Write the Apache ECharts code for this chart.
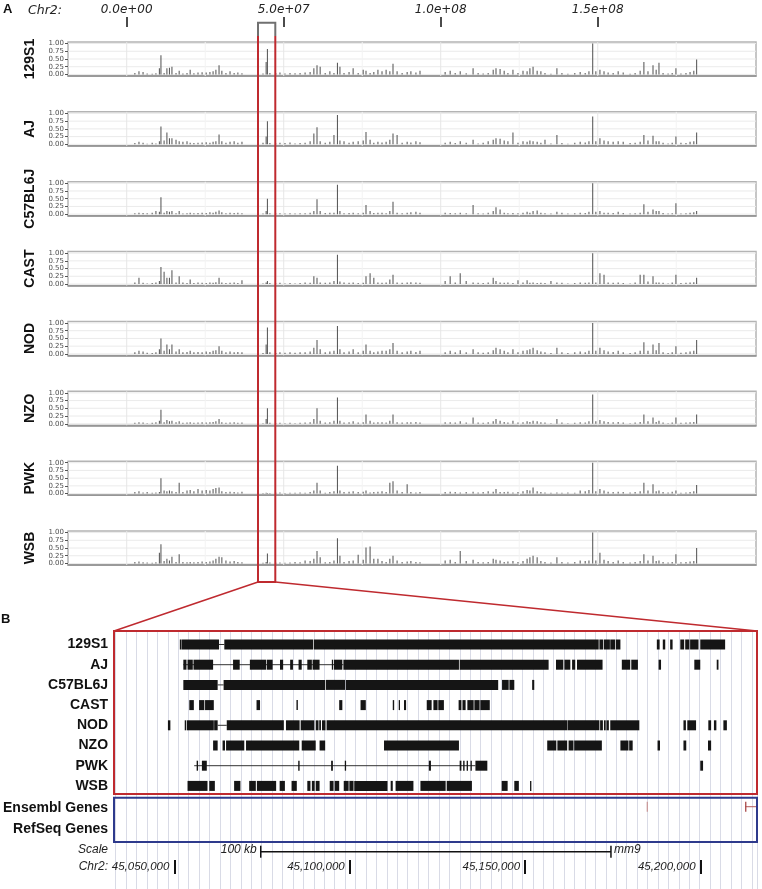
<!DOCTYPE html>
<html><head><meta charset="utf-8">
<script src="https://cdn.jsdelivr.net/npm/echarts@6/dist/echarts.min.js"></script>
<style>html,body{margin:0;padding:0;background:#fff}#c{width:762px;height:889px}</style>
</head><body><div id="c"></div><script>
// ---------------- DATA ----------------
const strains = ['129S1','AJ','C57BL6J','CAST','NOD','NZO','PWK','WSB'];
// Panel A: bin positions (Mb on Chr2)
const binMb = [2.6,3.9,5.2,6.5,8.1,9.3,10.4,10.9,11.9,12.8,13.6,14.4,15.7,16.7,17.9,19.2,20.2,21.4,22.7,24.0,25.3,26.5,27.5,28.4,29.4,30.3,31.6,32.9,34.2,35.4,36.7,43.4,44.4,44.8,45.6,47.5,48.8,50.4,52.0,53.6,55.2,56.8,58.4,59.6,60.6,61.6,63.2,64.7,66.0,67.1,67.9,69.2,70.8,72.1,73.7,75.3,76.2,77.5,78.7,80.0,81.3,82.6,83.8,84.8,86.1,87.7,89.3,90.5,92.1,93.4,101.4,103.0,104.6,106.2,108.1,110.3,111.9,113.5,115.1,116.7,117.6,118.9,120.2,121.4,123.0,124.6,126.2,127.5,128.4,129.4,130.7,131.9,133.2,135.1,137.0,138.6,140.5,142.7,144.4,146.0,147.2,148.4,149.4,150.7,152.0,153.3,154.9,156.5,158.1,160.3,161.9,163.5,164.7,166.0,167.6,168.6,169.5,170.8,172.4,173.7,174.9,176.5,178.1,179.4,180.6,181.5];
const val129S1 = [.05,.1,.08,.03,.02,.04,.2,.62,.05,.2, .22,.25,.05,.12,.03,.05,.15,.04,.06,.07, .06,.08,.1,.15,.3,.12,.05,.1,.05,.06, .04,.03,.4,.82,.05,.04,.06,.03,.05,.04, .05,.06,.08,.2,.3,.25,.05,.1,.05,.38, .25,.05,.08,.2,.05,.15,.12,.05,.08,.15, .1,.15,.1,.35,.1,.05,.08,.1,.06,.12, .08,.12,.05,.1,.04,.2,.05,.03,.05,.15, .2,.18,.12,.05,.15,.05,.12,.1,.2,.25, .12,.1,.05,.02,.2,.05,.02,.05,.08,.05, .1,1.0,.1,.15,.1,.06,.05,.1,.06,.02, .05,.12,.4,.1,.3,.15,.38,.05,.03,.05, .2,.03,.05,.08,.12,.48];
const valAJ = [.04,.08,.05,.02,.05,.03,.1,.58,.12,.38, .2,.2,.15,.1,.08,.1,.05,.04,.05,.06, .07,.05,.08,.1,.32,.1,.05,.08,.1,.05, .08,.05,.25,.75,.04,.03,.05,.04,.06,.03, .04,.05,.1,.35,.55,.1,.05,.08,.3,.95, .12,.1,.05,.08,.1,.12,.4,.15,.05,.08, .06,.08,.15,.35,.3,.05,.08,.06,.1,.07, .05,.08,.04,.1,.05,.15,.03,.05,.1,.15, .2,.18,.12,.1,.38,.05,.1,.08,.12,.1, .08,.05,.15,.03,.3,.04,.02,.05,.08,.06, .1,.9,.1,.2,.12,.1,.08,.1,.08,.04, .05,.08,.3,.12,.28,.1,.1,.05,.03,.05, .25,.05,.04,.08,.1,.38];
const valC57BL6J = [.03,.05,.04,.03,.05,.1,.08,.55,.05,.1, .08,.1,.03,.1,.02,.03,.05,.03,.04,.05, .04,.06,.05,.08,.12,.06,.03,.05,.04,.05, .03,.02,.1,.5,.03,.02,.03,.02,.03,.02, .03,.03,.05,.1,.48,.1,.04,.05,.05,.95, .1,.03,.04,.05,.03,.05,.3,.1,.04,.05, .05,.03,.1,.4,.05,.03,.05,.06,.08,.05, .05,.04,.03,.05,.03,.3,.03,.02,.05,.1, .22,.15,.05,.03,.04,.03,.05,.08,.05,.1, .12,.05,.03,.02,.08,.05,.02,.03,.05,.04, .08,1.0,.08,.1,.05,.05,.04,.08,.04,.02, .03,.05,.32,.08,.15,.1,.1,.04,.02,.03, .35,.02,.03,.05,.06,.1];
const valCAST = [.05,.2,.04,.02,.03,.05,.1,.55,.4,.2, .2,.45,.05,.25,.05,.03,.15,.03,.05,.04, .03,.05,.04,.06,.2,.05,.03,.04,.05,.03, .12,.02,.05,.1,.03,.02,.04,.02,.03,.02, .03,.05,.04,.25,.2,.05,.04,.05,.1,.95, .08,.05,.04,.05,.03,.04,.25,.35,.2,.05, .04,.05,.15,.3,.05,.04,.05,.06,.05,.04, .1,.25,.05,.35,.1,.05,.04,.03,.05,.2, .1,.05,.04,.05,.03,.12,.05,.12,.04,.05, .03,.04,.03,.1,.05,.04,.02,.03,.05,.04, .05,1.0,.05,.35,.3,.05,.04,.05,.03,.02, .05,.3,.3,.08,.25,.05,.05,.04,.02,.05, .3,.03,.04,.05,.06,.2];
const valNOD = [.05,.1,.08,.04,.03,.05,.15,.5,.1,.3, .15,.3,.08,.15,.05,.06,.1,.05,.06,.05, .08,.06,.1,.12,.25,.1,.05,.08,.05,.06, .05,.03,.3,.85,.05,.03,.05,.04,.05,.04, .05,.05,.08,.2,.45,.15,.05,.08,.1,.9, .15,.05,.08,.15,.05,.1,.3,.1,.05,.08, .1,.1,.15,.35,.1,.05,.08,.1,.06,.1, .05,.1,.05,.12,.05,.15,.05,.04,.05,.12, .2,.15,.1,.05,.15,.05,.1,.12,.15,.2, .12,.08,.05,.03,.2,.05,.03,.05,.08,.05, .1,1.0,.1,.2,.12,.08,.06,.1,.05,.03, .05,.1,.38,.1,.3,.12,.35,.05,.03,.05, .25,.04,.05,.08,.1,.45];
const valNZO = [.03,.05,.04,.02,.03,.05,.1,.45,.05,.12, .08,.1,.05,.08,.03,.04,.05,.03,.04,.05, .04,.05,.06,.08,.15,.05,.03,.04,.05,.03, .04,.02,.15,.5,.03,.02,.03,.02,.03,.02, .03,.04,.05,.15,.5,.1,.04,.05,.1,.85, .1,.04,.05,.08,.04,.05,.3,.1,.04,.05, .05,.04,.1,.3,.05,.04,.05,.05,.06,.04, .05,.05,.04,.08,.04,.2,.04,.03,.05,.08, .15,.1,.06,.04,.1,.04,.05,.08,.06,.1, .08,.05,.04,.02,.15,.04,.02,.03,.05,.04, .08,.95,.08,.12,.08,.06,.05,.06,.04,.02, .04,.06,.3,.08,.2,.06,.1,.04,.02,.04, .2,.03,.04,.05,.06,.3];
const valPWK = [.05,.08,.04,.05,.03,.04,.05,.5,.1,.08, .1,.08,.05,.35,.05,.1,.12,.08,.15,.1, .12,.1,.15,.18,.2,.08,.05,.06,.05,.04, .06,.02,.03,.02,.02,.03,.04,.02,.03,.03, .04,.03,.05,.1,.35,.1,.03,.05,.08,.9, .1,.05,.06,.08,.05,.06,.1,.04,.05,.06, .08,.05,.35,.4,.1,.05,.3,.05,.04,.05, .05,.06,.05,.04,.05,.06,.04,.05,.08,.06, .15,.05,.05,.06,.04,.05,.08,.12,.1,.2, .08,.05,.04,.03,.04,.03,.04,.03,.1,.08, .12,1.0,.08,.15,.1,.06,.05,.06,.05,.04, .05,.08,.35,.1,.3,.08,.1,.05,.04,.06, .1,.03,.04,.05,.08,.28];
const valWSB = [.05,.06,.04,.03,.02,.04,.35,.62,.08,.15, .1,.22,.05,.3,.05,.04,.05,.04,.05,.06, .05,.06,.1,.15,.22,.2,.1,.06,.08,.05, .04,.02,.05,.32,.03,.02,.03,.02,.03,.05, .04,.1,.08,.15,.4,.2,.04,.05,.1,.82, .25,.05,.08,.1,.28,.12,.52,.55,.15,.15, .08,.05,.15,.25,.1,.05,.06,.08,.05,.04, .1,.12,.05,.4,.08,.12,.05,.04,.05,.15, .12,.1,.05,.06,.08,.05,.08,.15,.2,.25, .2,.08,.05,.03,.2,.05,.03,.05,.1,.08, .1,1.0,.1,.35,.12,.08,.05,.1,.05,.03, .05,.08,.3,.1,.25,.08,.1,.05,.03,.05, .3,.04,.05,.06,.08,.5];
const strainValues = [val129S1,valAJ,valC57BL6J,valCAST,valNOD,valNZO,valPWK,valWSB];
const topTickMb = [0,50,100,150];
const topTickLabels = ['0.0e+00','5.0e+07','1.0e+08','1.5e+08'];
const minorMb = [25,75,125,175];
const yTicks = [0,0.25,0.5,0.75,1];

// Panel B: blocks in kb (Chr2), [start, end]
const blocks129S1 = [[45051.3,45051.8],[45051.9,45062.5],[45064.0,45089.4],[45089.6,45170.9],[45171.1,45172.2],[45172.4,45174.1],[45174.2,45175.6],[45175.8,45177.1],[45187.5,45188.3],[45189.2,45189.9],[45191.3,45192.0],[45194.2,45195.3],[45195.6,45196.8],[45197.0,45199.4],[45199.9,45207.0]];
const lines129S1 = [[45062.5,45064.0]];
const blocksAJ = [[45052.3,45053.2],[45053.5,45055.0],[45055.2,45060.8],[45066.5,45068.4],[45071.3,45075.9],[45076.1,45077.8],[45079.9,45080.8],[45082.8,45083.6],[45085.2,45086.1],[45087.7,45089.0],[45089.2,45091.2],[45094.7,45095.0],[45095.3,45097.7],[45098.0,45131.0],[45131.2,45156.6],[45158.7,45160.8],[45161.1,45162.8],[45163.3,45164.2],[45164.7,45172.0],[45177.5,45179.9],[45180.2,45182.1],[45188.0,45188.7],[45198.2,45199.9],[45204.6,45205.1]];
const linesAJ = [[45052.3,45098.0]];
const blocksC57BL6J = [[45052.3,45062.1],[45063.8,45092.8],[45093.0,45098.5],[45098.7,45142.2],[45143.3,45145.2],[45145.4,45146.8],[45151.9,45152.5]];
const linesC57BL6J = [[45062.1,45063.8]];
const blocksCAST = [[45054.0,45055.3],[45056.8,45058.3],[45058.5,45061.0],[45073.2,45074.2],[45084.6,45085.0],[45096.8,45097.7],[45102.9,45104.4],[45112.1,45112.5],[45113.8,45114.1],[45115.3,45115.9],[45121.8,45123.2],[45123.7,45124.9],[45125.1,45126.7],[45130.9,45131.7],[45132.0,45132.9],[45133.4,45135.2],[45135.4,45136.9],[45137.1,45139.8]];
const linesCAST = [];
const blocksNOD = [[45047.9,45048.6],[45052.7,45053.1],[45053.3,45061.0],[45061.1,45062.1],[45064.7,45081.0],[45081.6,45085.5],[45085.8,45089.7],[45090.1,45090.9],[45091.1,45091.6],[45091.9,45092.9],[45093.2,45161.9],[45162.0,45171.1],[45171.3,45172.1],[45172.4,45172.9],[45173.1,45173.8],[45174.2,45182.5],[45195.1,45195.8],[45196.2,45198.7],[45202.2,45203.0],[45203.8,45204.5],[45206.5,45207.5]];
const linesNOD = [[45062.1,45064.7]];
const blocksNZO = [[45060.8,45062.1],[45063.5,45064.2],[45064.5,45069.7],[45070.2,45085.4],[45086.1,45090.1],[45091.2,45092.8],[45109.6,45131.0],[45156.2,45158.8],[45159.1,45161.9],[45162.3,45163.7],[45163.9,45171.8],[45177.1,45179.4],[45179.6,45180.6],[45187.7,45188.4],[45195.1,45195.9],[45202.1,45203.0]];
const linesNZO = [];
const blocksPWK = [[45056.1,45056.5],[45057.6,45059.0],[45085.1,45085.5],[45094.5,45095.0],[45098.4,45098.6],[45122.4,45123.0],[45131.2,45131.7],[45132.2,45132.6],[45133.2,45133.4],[45134.3,45134.6],[45135.7,45139.1],[45199.9,45200.7]];
const linesPWK = [[45055.4,45135.7]];
const blocksWSB = [[45053.5,45059.2],[45059.7,45061.3],[45066.8,45068.6],[45071.1,45073.0],[45073.3,45078.8],[45079.8,45081.3],[45083.2,45084.7],[45087.7,45088.6],[45089.0,45089.8],[45090.1,45091.2],[45094.1,45095.2],[45095.5,45096.8],[45098.1,45099.5],[45099.7,45100.9],[45101.1,45110.6],[45111.5,45112.1],[45112.9,45118.0],[45120.0,45127.2],[45127.5,45134.7],[45143.2,45144.9],[45146.8,45148.1],[45151.3,45151.6]];
const linesWSB = [];
const ensemblBlocks = [[45184.6,45184.9],[45212.7,45213.0]];
const ensemblLines = [[45212.7,45216.1]];
const windowKb = [45032.8, 45216.1];
const scaleBarKb = [45074.4, 45174.4];
const positionTicksKb = [45050, 45100, 45150, 45200];
const trackLabels = ['129S1','AJ','C57BL6J','CAST','NOD','NZO','PWK','WSB','Ensembl Genes','RefSeq Genes','Scale','Chr2:'];
const trackLabelRows = [0,1,2,3,4,5,6,7,8.1,9.15,10.17,11.01];
const ensemblRow = 8.03, scaleRow = 10.257;

// ---------------- LAYOUT ----------------
const SANS = '"Liberation Sans", Arial, Helvetica, sans-serif';
const WIDE = '"DejaVu Sans", sans-serif';
const RED = '#bf2a2f', NAVY = '#2e3a8c';
const A_LEFT = 68, A_WIDTH = 688, A_TOP0 = 42, A_STEP = 69.86, A_H = 34;
const X_MIN = -18.7, X_MAX = 200.4;
const B_LEFT = 114, B_WIDTH = 643, B_TOP = 631, B_BOTTOM = 889;
const ROW0 = 644.5, ROWSTEP = 20.2;

const grids = [], xAxes = [], yAxes = [], series = [];
strains.forEach((s, i) => {
  grids.push({left: A_LEFT, width: A_WIDTH, top: A_TOP0 + i * A_STEP, height: A_H, show: true,
    borderColor: '#b4b4b4', borderWidth: 1.5, backgroundColor: '#fff'});
  xAxes.push({type: 'value', gridIndex: i, min: X_MIN, max: X_MAX, position: 'bottom',
    axisLine: {show: true, onZero: false, lineStyle: {color: '#8c8c8c', width: 1.5}},
    axisTick: {show: false}, axisLabel: {show: false}, splitLine: {show: false}});
  yAxes.push({type: 'value', gridIndex: i, min: -0.05, max: 1.05, position: 'left',
    name: s, nameLocation: 'middle', nameRotate: 90, nameGap: 26,
    nameTextStyle: {fontFamily: SANS, fontWeight: 'bold', fontSize: 14, color: '#111'},
    axisLine: {show: false, onZero: false},
    axisTick: {show: true, customValues: yTicks, length: 3, lineStyle: {color: '#555'}},
    axisLabel: {customValues: yTicks, formatter: v => v.toFixed(2), fontSize: 7, fontFamily: WIDE, color: '#4d4d4d', margin: 4},
    splitLine: {show: false}});
  // light grid lines
  series.push({type: 'custom', xAxisIndex: i, yAxisIndex: i, silent: true, z: 1,
    data: yTicks.map(v => [X_MIN, v]),
    renderItem: (p, api) => {
      const cs = p.coordSys; const y = api.coord([0, api.value(1)])[1];
      return {type: 'line', shape: {x1: cs.x, y1: y, x2: cs.x + cs.width, y2: y}, style: {stroke: '#ebebeb', lineWidth: 1}};
    }});
  series.push({type: 'custom', xAxisIndex: i, yAxisIndex: i, silent: true, z: 1,
    data: topTickMb.map(v => [v, 0, 1]).concat(minorMb.map(v => [v, 0, 0])),
    renderItem: (p, api) => {
      const cs = p.coordSys; const x = api.coord([api.value(0), 0])[0];
      return {type: 'line', shape: {x1: x, y1: cs.y, x2: x, y2: cs.y + cs.height},
        style: {stroke: api.value(2) ? '#e6e6e6' : '#f3f3f3', lineWidth: 1}};
    }});
  series.push({type: 'bar', xAxisIndex: i, yAxisIndex: i, silent: true, z: 3,
    barWidth: 1, itemStyle: {color: '#4f4f4f'},
    data: binMb.map((m, j) => [m, strainValues[i][j]])});
});

// top ticks grid (index 8)
grids.push({left: A_LEFT, width: A_WIDTH, top: 17, height: 10, show: false});
xAxes.push({type: 'value', gridIndex: 8, min: X_MIN, max: X_MAX, position: 'top',
  axisLine: {show: false, onZero: false},
  axisTick: {show: true, customValues: topTickMb, inside: true, length: 10, lineStyle: {color: '#111', width: 1.5}},
  axisLabel: {customValues: topTickMb, margin: 1, fontFamily: WIDE, fontStyle: 'italic', fontSize: 12, color: '#222',
    formatter: v => topTickLabels[topTickMb.findIndex(t => Math.abs(t - v) < 1e-6)]},
  splitLine: {show: false}});
yAxes.push({type: 'value', gridIndex: 8, show: false});

// Panel B tracks grid (index 9)
grids.push({left: B_LEFT, width: B_WIDTH, top: B_TOP, height: B_BOTTOM - B_TOP, show: false});
xAxes.push({type: 'value', gridIndex: 9, min: windowKb[0], max: windowKb[1], show: false});
yAxes.push({type: 'value', gridIndex: 9, inverse: true,
  min: -(ROW0 - B_TOP) / ROWSTEP, max: (B_BOTTOM - ROW0) / ROWSTEP,
  axisLine: {show: false, onZero: false}, axisTick: {show: false}, splitLine: {show: false},
  axisLabel: {customValues: trackLabelRows, margin: 7,
    formatter: v => { const k = trackLabelRows.findIndex(t => Math.abs(t - v) < 1e-6);
      return (k >= 10 ? '{it|' : '{b|') + trackLabels[k] + '}'; },
    rich: {b: {fontFamily: SANS, fontWeight: 'bold', fontSize: 14, color: '#111'},
           it: {fontFamily: SANS, fontStyle: 'italic', fontSize: 12, color: '#222'}}}});

// guidelines grid (index 10)
const GUIDE_STEP = 10.43, GUIDE_LEFT = 115.6;
grids.push({left: GUIDE_LEFT, width: B_LEFT + B_WIDTH - GUIDE_LEFT, top: B_TOP, height: B_BOTTOM - B_TOP, show: false});
xAxes.push({type: 'value', gridIndex: 10, min: 0, max: (B_LEFT + B_WIDTH - GUIDE_LEFT) / GUIDE_STEP, interval: 1,
  axisLine: {show: false}, axisTick: {show: false}, axisLabel: {show: false},
  splitLine: {show: true, lineStyle: {color: '#d9dbe6', width: 1}}});
yAxes.push({type: 'value', gridIndex: 10, show: false});

// positions axis grid (index 11)
grids.push({left: B_LEFT, width: B_WIDTH, top: 860, height: 14, show: false});
xAxes.push({type: 'value', gridIndex: 11, min: windowKb[0], max: windowKb[1], position: 'bottom',
  axisLine: {show: false, onZero: false},
  axisTick: {show: true, customValues: positionTicksKb, inside: true, length: 14, lineStyle: {color: '#111', width: 2}},
  axisLabel: {customValues: positionTicksKb, margin: -7, align: 'right', verticalAlign: 'middle', padding: [0, 5, 0, 0],
    fontFamily: SANS, fontStyle: 'italic', fontSize: 11.5, color: '#222',
    formatter: v => Math.round(v * 1000).toString().replace(/\B(?=(\d{3})+(?!\d))/g, ',')},
  splitLine: {show: false}});
yAxes.push({type: 'value', gridIndex: 11, show: false});

// Panel B series
const blockRows = [blocks129S1, blocksAJ, blocksC57BL6J, blocksCAST, blocksNOD, blocksNZO, blocksPWK, blocksWSB];
const lineRows = [lines129S1, linesAJ, linesC57BL6J, linesCAST, linesNOD, linesNZO, linesPWK, linesWSB];
const blockData = [], lineData = [];
blockRows.forEach((arr, r) => arr.forEach(b => blockData.push([b[0], b[1], r])));
lineRows.forEach((arr, r) => arr.forEach(b => lineData.push([b[0], b[1], r])));

series.push({type: 'custom', xAxisIndex: 9, yAxisIndex: 9, silent: true, z: 4,
  data: lineData, encode: {x: [0, 1], y: 2},
  renderItem: (p, api) => {
    const a = api.coord([api.value(0), api.value(2)]), b = api.coord([api.value(1), api.value(2)]);
    return {type: 'line', shape: {x1: a[0], y1: a[1], x2: b[0], y2: b[1]}, style: {stroke: '#333', lineWidth: 1}};
  }});
series.push({type: 'custom', xAxisIndex: 9, yAxisIndex: 9, silent: true, z: 5,
  data: blockData, encode: {x: [0, 1], y: 2},
  renderItem: (p, api) => {
    const a = api.coord([api.value(0), api.value(2)]), b = api.coord([api.value(1), api.value(2)]);
    return {type: 'rect', shape: {x: a[0], y: a[1] - 5, width: Math.max(b[0] - a[0], 1.3), height: 10}, style: {fill: '#151515'}};
  }});
series.push({type: 'custom', xAxisIndex: 9, yAxisIndex: 9, silent: true, z: 4,
  data: ensemblLines.map(b => [b[0], b[1], ensemblRow]), encode: {x: [0, 1], y: 2},
  renderItem: (p, api) => {
    const a = api.coord([api.value(0), api.value(2)]), b = api.coord([api.value(1), api.value(2)]);
    return {type: 'line', shape: {x1: a[0], y1: a[1], x2: b[0], y2: b[1]}, style: {stroke: '#b45a5a', lineWidth: 1}};
  }});
series.push({type: 'custom', xAxisIndex: 9, yAxisIndex: 9, silent: true, z: 5,
  data: ensemblBlocks.map((b, k) => [b[0], b[1], ensemblRow, k]), encode: {x: [0, 1], y: 2},
  renderItem: (p, api) => {
    const a = api.coord([api.value(0), api.value(2)]), b = api.coord([api.value(1), api.value(2)]);
    return {type: 'rect', shape: {x: a[0], y: a[1] - 5, width: Math.max(b[0] - a[0], 1.3), height: 10},
      style: {fill: api.value(3) ? '#a94848' : '#c99a9a'}};
  }});
// scale bar
series.push({type: 'custom', xAxisIndex: 9, yAxisIndex: 9, silent: true, z: 5,
  data: [[scaleBarKb[0], scaleBarKb[1], scaleRow]], encode: {x: [0, 1], y: 2},
  renderItem: (p, api) => {
    const a = api.coord([api.value(0), api.value(2)]), b = api.coord([api.value(1), api.value(2)]);
    const ts = {fontFamily: SANS, fontStyle: 'italic', fontSize: 12, fill: '#222'};
    return {type: 'group', children: [
      {type: 'line', shape: {x1: a[0], y1: a[1], x2: b[0], y2: b[1]}, style: {stroke: '#111', lineWidth: 1.5}},
      {type: 'line', shape: {x1: a[0], y1: a[1] - 6, x2: a[0], y2: a[1] + 6}, style: {stroke: '#111', lineWidth: 1.5}},
      {type: 'line', shape: {x1: b[0], y1: b[1] - 6, x2: b[0], y2: b[1] + 6}, style: {stroke: '#111', lineWidth: 1.5}},
      {type: 'text', x: a[0] - 4, y: a[1] - 2, style: Object.assign({text: '100 kb', align: 'right', verticalAlign: 'middle'}, ts)},
      {type: 'text', x: b[0] + 3, y: b[1] - 2, style: Object.assign({text: 'mm9', align: 'left', verticalAlign: 'middle'}, ts)}
    ]};
  }});

// decorations
const graphic = [
  {type: 'text', left: 3, top: 3, style: {text: 'A', font: 'bold 13px ' + SANS, fill: '#111'}, z: 100},
  {type: 'text', left: 1, top: 613, style: {text: 'B', font: 'bold 13px ' + SANS, fill: '#111'}, z: 100},
  {type: 'text', left: 28, top: 4, style: {text: 'Chr2:', font: 'italic 12.5px ' + WIDE, fill: '#222'}, z: 100},
  {type: 'polyline', shape: {points: [[258, 36], [258, 22.7], [275.3, 22.7], [275.3, 36]]}, style: {stroke: '#707070', lineWidth: 2, fill: null}, z: 100},
  {type: 'polyline', shape: {points: [[258, 36], [258, 582], [275.3, 582], [275.3, 36]]}, style: {stroke: RED, lineWidth: 2, fill: null}, z: 100},
  {type: 'line', shape: {x1: 258, y1: 582, x2: 114, y2: 631}, style: {stroke: RED, lineWidth: 1.5}, z: 100},
  {type: 'line', shape: {x1: 275.3, y1: 582, x2: 757, y2: 631}, style: {stroke: RED, lineWidth: 1.5}, z: 100},
  {type: 'rect', shape: {x: 114, y: 631, width: 643, height: 163}, style: {stroke: RED, lineWidth: 2, fill: null}, z: 100},
  {type: 'rect', shape: {x: 114, y: 797.7, width: 643, height: 44.3}, style: {stroke: NAVY, lineWidth: 2, fill: null}, z: 100}
];

const chart = echarts.init(document.getElementById('c'), null, {renderer: 'canvas'});
chart.setOption({animation: false, backgroundColor: '#fff', grid: grids, xAxis: xAxes, yAxis: yAxes, series, graphic});
</script></body></html>
